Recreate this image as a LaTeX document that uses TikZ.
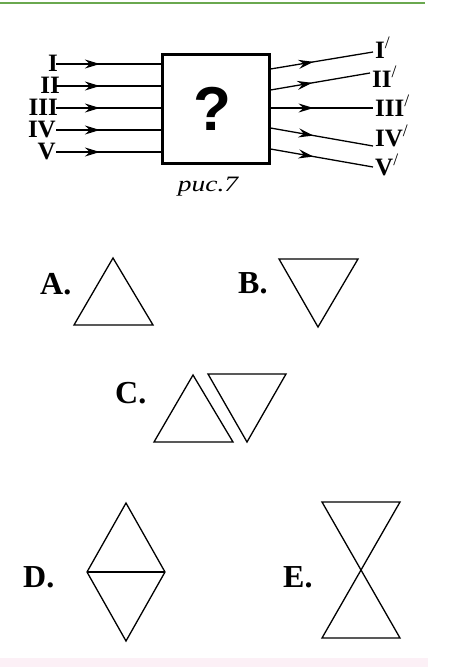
\documentclass[tikz,border=0pt]{standalone}
\usepackage{fontspec}
\setmainfont{Liberation Serif}
\newfontfamily\qfont{Liberation Sans}
\definecolor{ruleGreen}{RGB}{106,168,79}
\definecolor{footPink}{RGB}{252,240,246}
\usetikzlibrary{arrows.meta, decorations.markings, calc}
\newcommand{\rprime}{\textsuperscript{\mdseries /}}
\tikzset{
  roman/.style={font=\fontsize{25}{25}\selectfont\bfseries, inner sep=0pt},
  option/.style={font=\fontsize{32}{32}\selectfont\bfseries, inner sep=0pt, anchor=base west},
  wire/.style={line width=1.3pt, postaction={decorate},
    decoration={markings, mark=at position 0.42 with {\arrow{Stealth[length=15pt,width=9pt,inset=5pt]}}}},
  figline/.style={line width=1.3pt, line join=miter},
  blackbox/.style={draw, line width=3pt, minimum width=107pt, minimum height=109pt, inner sep=0pt},
}

\begin{document}
\begin{tikzpicture}[x=1pt, y=-1pt]
  \useasboundingbox (0,0) rectangle (451,667);
  \draw [ruleGreen, line width=1.5pt] (0,3) -- (425,3);
  \fill [footPink] (0,658) rectangle (428,667);

  \node (box) [blackbox] at (215.5,108.5) {};
  \node (ask) at (212,109) {\qfont\fontsize{62}{62}\selectfont\bfseries ?};
  \node (cap) [anchor=base] at (208,191) {\fontsize{22}{22}\selectfont\scalebox{1.25}[1]{\itshape рис.7}};

  \node (in1) [roman, anchor=base east] at (58,71)  {I};
  \node (in2) [roman, anchor=base east] at (60,93)  {II};
  \node (in3) [roman, anchor=base east] at (58,115) {III};
  \node (in4) [roman, anchor=base east] at (56,137) {IV};
  \node (in5) [roman, anchor=base east] at (56,159) {V};

  \coordinate (a1) at (56,64);
  \coordinate (a2) at (56,86);
  \coordinate (a3) at (56,108);
  \coordinate (a4) at (56,130);
  \coordinate (a5) at (56,152);

  \draw [wire] (a1) -- (a1 -| box.west);
  \draw [wire] (a2) -- (a2 -| box.west);
  \draw [wire] (a3) -- (a3 -| box.west);
  \draw [wire] (a4) -- (a4 -| box.west);
  \draw [wire] (a5) -- (a5 -| box.west);

  \node (out1) [roman, anchor=base west] at (375,58)  {I\rprime};
  \node (out2) [roman, anchor=base west] at (372,87)  {II\rprime};
  \node (out3) [roman, anchor=base west] at (375,116) {III\rprime};
  \node (out4) [roman, anchor=base west] at (375,146) {IV\rprime};
  \node (out5) [roman, anchor=base west] at (375,175) {V\rprime};

  \coordinate (b1) at (373,52);
  \coordinate (b2) at (370,73);
  \coordinate (b3) at (373,108);
  \coordinate (b4) at (373,146);
  \coordinate (b5) at (373,167);

  \draw [wire] (box.east |- 0,69)  -- (b1);
  \draw [wire] (box.east |- 0,90)  -- (b2);
  \draw [wire] (box.east |- 0,108) -- (b3);
  \draw [wire] (box.east |- 0,128) -- (b4);
  \draw [wire] (box.east |- 0,149) -- (b5);

  \node (optA) [option] at (40,294)  {A.};
  \node (optB) [option] at (238,293) {B.};
  \node (optC) [option] at (115,403) {C.};
  \node (optD) [option] at (23,587)  {D.};
  \node (optE) [option] at (283,587) {E.};

  \draw [figline] (113,258) -- (74,325) -- (153,325) -- cycle;
  \draw [figline] (279,259) -- (358,259) -- (318,327) -- cycle;
  \draw [figline] (193,375) -- (154,442) -- (233,442) -- cycle;
  \draw [figline] (208,374) -- (286,374) -- (247,442) -- cycle;
  \draw [figline] (126,503) -- (87,572) -- (126,641) -- (165,572) -- cycle;
  \draw [line width=2.2pt] (87,572) -- (165,572);
  \draw [figline] (322,502) -- (400,502) -- (322,638) -- (400,638) -- cycle;
\end{tikzpicture}
\end{document}
